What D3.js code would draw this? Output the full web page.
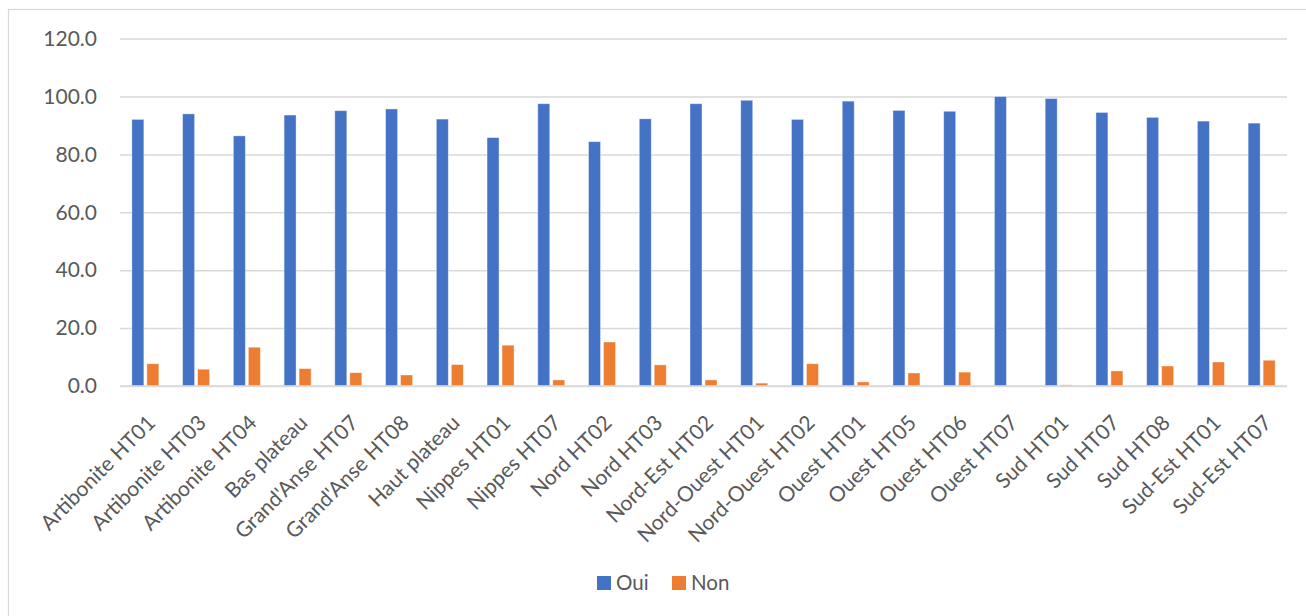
<!DOCTYPE html>
<html>
<head>
<meta charset="utf-8">
<script src="https://cdn.jsdelivr.net/npm/d3@7"></script>
<style>
  html, body { margin: 0; padding: 0; background: #fff; }
  svg { display: block; font-family: Lato, "Open Sans", sans-serif; }
</style>
</head>
<body>
<svg id="chart" width="1306" height="616"></svg>
<script>
// Catégories (départements / zones)
const categories = [
  "Artibonite HT01", "Artibonite HT03", "Artibonite HT04", "Bas plateau",
  "Grand'Anse HT07", "Grand'Anse HT08", "Haut plateau", "Nippes HT01",
  "Nippes HT07", "Nord HT02", "Nord HT03", "Nord-Est HT02",
  "Nord-Ouest HT01", "Nord-Ouest HT02", "Ouest HT01", "Ouest HT05",
  "Ouest HT06", "Ouest HT07", "Sud HT01", "Sud HT07", "Sud HT08",
  "Sud-Est HT01", "Sud-Est HT07"
];
const seriesNames = ["Oui", "Non"];
const ouiValues = [
  92.1, 94.0, 86.4, 93.6, 95.1, 95.7, 92.2, 85.8, 97.5, 84.4, 92.3,
  97.5, 98.7, 92.1, 98.4, 95.2, 94.9, 100.0, 99.3, 94.5, 92.8, 91.5, 90.8
];
const nonValues = [
  7.7, 5.8, 13.4, 6.0, 4.6, 3.8, 7.4, 14.1, 2.1, 15.2, 7.3,
  2.1, 1.0, 7.7, 1.4, 4.5, 4.8, 0.0, 0.4, 5.2, 6.9, 8.3, 8.9
];
const yTicks = [0, 20, 40, 60, 80, 100, 120];
const colors = { Oui: "#4472C4", Non: "#ED7D31" };

const svg = d3.select("#chart");

// chart frame
svg.append("rect")
  .attr("x", 8.5).attr("y", 9.5)
  .attr("width", 1320).attr("height", 640)
  .attr("fill", "#fff").attr("stroke", "#d9d9d9").attr("stroke-width", 1.2);

const plot = { left: 120, right: 1287, top: 38.6, bottom: 386 };

const x0 = d3.scaleBand().domain(categories).range([plot.left, plot.right]);
const bw = x0.bandwidth();
const x1 = d3.scaleBand().domain(seriesNames)
  .range([bw / 2 - 13.5, bw / 2 + 13.5]).paddingInner(0.2);
const y = d3.scaleLinear().domain([0, 120]).range([plot.bottom, plot.top]);

// gridlines + y labels
const yAxis = svg.append("g")
  .attr("transform", `translate(${plot.left},0)`)
  .call(d3.axisLeft(y).tickValues(yTicks).tickFormat(d3.format(".1f"))
    .tickSize(-(plot.right - plot.left)).tickPadding(23));
yAxis.select(".domain").remove();
yAxis.selectAll(".tick line").attr("stroke", "#d9d9d9").attr("stroke-width", 1.5);
yAxis.selectAll(".tick text")
  .attr("fill", "#595959").style("font-size", "21px")
  .style("font-family", "Lato, 'Open Sans', sans-serif");

// bars
const rows = categories.map((c, i) => ({ cat: c, Oui: ouiValues[i], Non: nonValues[i] }));
const groups = svg.append("g").selectAll("g")
  .data(rows).join("g")
  .attr("transform", d => `translate(${x0(d.cat)},0)`);
groups.selectAll("rect")
  .data(d => seriesNames.map(s => ({ s, v: d[s] })))
  .join("rect")
  .attr("x", d => x1(d.s))
  .attr("width", x1.bandwidth())
  .attr("y", d => y(d.v))
  .attr("height", d => y(0) - y(d.v))
  .attr("fill", d => colors[d.s])
  .attr("stroke", "#fff").attr("stroke-opacity", 0.5).attr("stroke-width", 0.8);

// category axis line
svg.append("line")
  .attr("x1", plot.left).attr("x2", plot.right)
  .attr("y1", y(0)).attr("y2", y(0))
  .attr("stroke", "#d9d9d9").attr("stroke-width", 1.5);

// rotated category labels
svg.append("g").selectAll("text")
  .data(categories).join("text")
  .attr("transform", d => `translate(${x0(d) + bw / 2 + 6},419) rotate(-45)`)
  .attr("text-anchor", "end")
  .attr("dy", "0.35em")
  .attr("fill", "#595959")
  .style("font-family", "Lato, 'Open Sans', sans-serif")
  .style("font-size", "21px")
  .text(d => d);

// legend
const legend = svg.append("g").attr("transform", "translate(597,583)");
const items = [{ s: "Oui", x: 0 }, { s: "Non", x: 75 }];
const li = legend.selectAll("g").data(items).join("g")
  .attr("transform", d => `translate(${d.x},0)`);
li.append("rect").attr("x", 0).attr("y", -7).attr("width", 14).attr("height", 14)
  .attr("fill", d => colors[d.s]);
li.append("text").attr("x", 19).attr("dy", "0.36em")
  .attr("fill", "#595959").style("font-size", "20.5px")
  .text(d => d.s);
</script>
</body>
</html>
